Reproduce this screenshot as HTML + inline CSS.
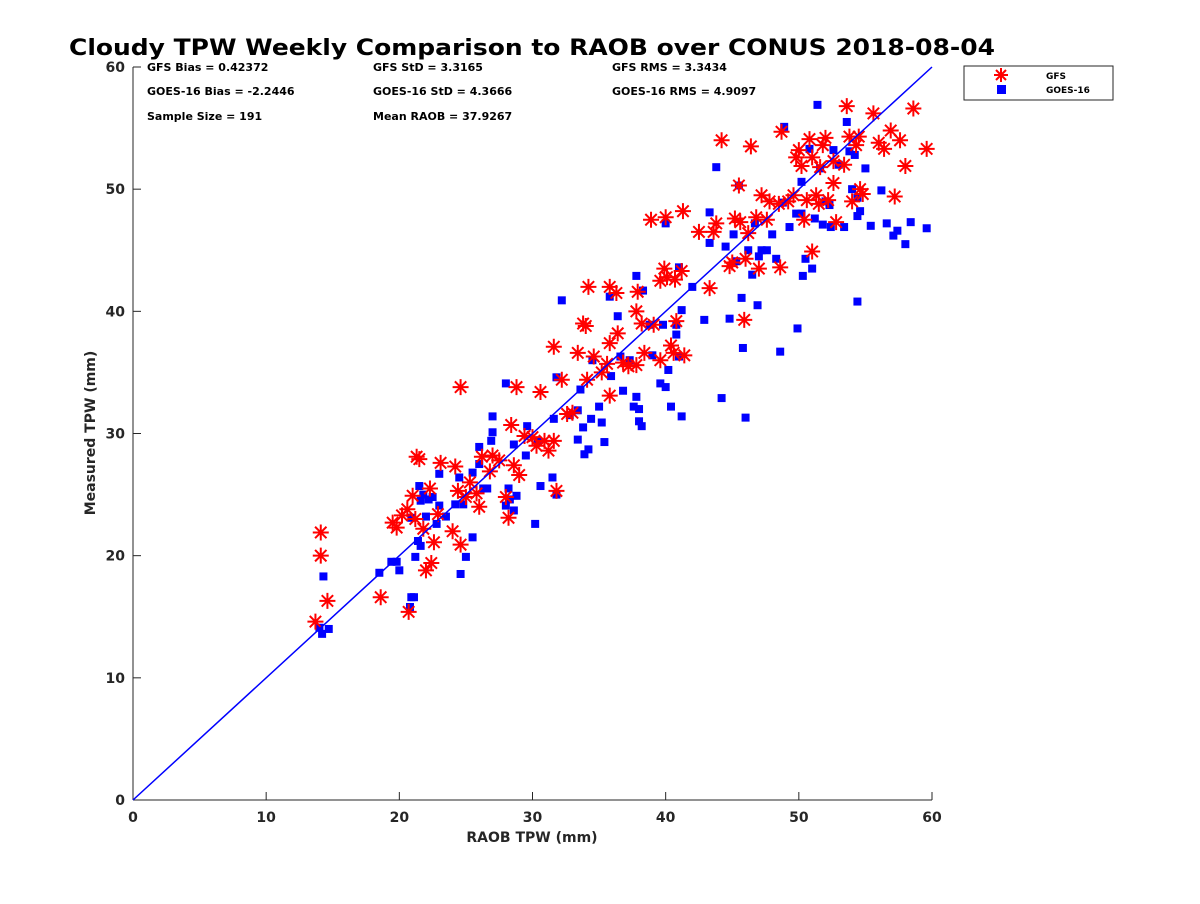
<!DOCTYPE html>
<html><head><meta charset="utf-8"><style>
body{margin:0;background:#fff;width:1200px;height:900px;overflow:hidden;font-family:"DejaVu Sans",sans-serif}
</style></head><body>
<svg id="chart" width="1200" height="900" xmlns="http://www.w3.org/2000/svg" style="font-family:'DejaVu Sans','Liberation Sans',sans-serif">
<text x="532" y="55" text-anchor="middle" font-size="22" font-weight="bold" textLength="926" lengthAdjust="spacingAndGlyphs">Cloudy TPW Weekly Comparison to RAOB over CONUS 2018-08-04</text>
<g font-size="11" font-weight="bold" fill="#000">
<text x="147" y="71">GFS Bias = 0.42372</text><text x="373" y="71">GFS StD = 3.3165</text><text x="612" y="71">GFS RMS = 3.3434</text>
<text x="147" y="95">GOES-16 Bias = -2.2446</text><text x="373" y="95">GOES-16 StD = 4.3666</text><text x="612" y="95">GOES-16 RMS = 4.9097</text>
<text x="147" y="120">Sample Size = 191</text><text x="373" y="120">Mean RAOB = 37.9267</text>
</g>
<g id="axes"></g>
<g id="marks"></g>
<text x="532" y="842" text-anchor="middle" font-size="14" font-weight="bold" fill="#262626">RAOB TPW (mm)</text>
<text transform="translate(95,433) rotate(-90)" text-anchor="middle" font-size="14" font-weight="bold" fill="#262626">Measured TPW (mm)</text>
<g>
<rect x="964" y="66" width="149" height="34" fill="#fff" stroke="#262626" stroke-width="1"/>
<g stroke="#f00" stroke-width="2"><line x1="1001" y1="68" x2="1001" y2="82"/><line x1="994" y1="75" x2="1008" y2="75"/><line x1="996" y1="70" x2="1006" y2="80"/><line x1="996" y1="80" x2="1006" y2="70"/></g>
<rect x="997" y="85" width="9" height="9" fill="#00f"/>
<text x="1046" y="79" font-size="9" font-weight="bold">GFS</text>
<text x="1046" y="93" font-size="9" font-weight="bold">GOES-16</text>
</g>
</svg>
<script>
const xTicks=[0,10,20,30,40,50,60];
const yTicks=[0,10,20,30,40,50,60];
const gfsX=[14.1,14.1,14.6,13.7,18.6,20.7,19.5,19.8,20.2,20.6,21.0,21.3,21.5,21.2,21.8,22.0,22.4,22.6,22.3,22.9,23.1,24.0,24.2,24.6,24.6,24.4,25.0,25.3,25.8,26.0,26.2,26.8,27.0,27.5,28.0,28.2,28.4,28.6,28.8,29.0,29.4,30.0,30.3,30.6,30.9,31.2,31.6,31.8,31.6,32.2,32.6,33.0,33.4,33.8,34.0,34.1,34.2,34.6,35.2,35.6,35.8,35.8,35.8,36.3,36.4,36.8,37.2,37.8,37.9,37.8,38.2,38.4,38.9,39.1,39.6,39.6,39.9,40.0,40.1,40.4,40.6,40.7,40.8,41.2,41.3,41.4,42.5,43.3,43.6,43.8,44.2,44.8,45.0,45.2,45.5,45.6,45.9,46.0,46.2,46.4,46.8,47.0,47.2,47.8,47.6,48.5,48.6,48.7,49.2,49.6,49.8,50.0,50.2,50.4,50.6,50.8,51.0,51.0,51.3,51.5,51.6,51.8,52.0,52.2,52.6,52.6,52.8,53.4,53.6,53.8,54.0,54.3,54.5,54.6,54.8,55.6,56.0,56.4,56.9,57.2,57.6,58.0,58.6,59.6];
const gfsY=[21.9,20.0,16.3,14.6,16.6,15.4,22.7,22.3,23.3,23.8,24.9,28.1,27.9,23.0,22.2,18.8,19.4,21.1,25.5,23.4,27.6,22.0,27.3,20.9,33.8,25.3,24.8,26.0,25.1,24.0,28.1,26.9,28.2,27.8,24.8,23.1,30.7,27.4,33.8,26.6,29.8,29.7,29.0,33.4,29.4,28.6,29.4,25.3,37.1,34.4,31.6,31.7,36.6,39.0,38.8,34.4,42.0,36.3,35.0,35.7,33.1,37.4,42.0,41.5,38.2,35.8,35.5,35.6,41.6,40.0,39.0,36.6,47.5,38.9,42.5,36.0,43.5,47.7,42.8,37.2,36.6,42.6,39.2,43.3,48.2,36.4,46.5,41.9,46.5,47.2,54.0,43.7,44.0,47.6,50.3,47.3,39.3,44.3,46.4,53.5,47.7,43.5,49.5,49.0,47.5,48.8,43.6,54.7,49.0,49.5,52.6,53.2,51.9,47.5,49.1,54.1,52.6,44.9,49.5,48.8,51.8,53.6,54.2,49.1,52.3,50.5,47.3,52.0,56.8,54.3,49.0,53.6,54.3,50.0,49.6,56.2,53.8,53.3,54.8,49.4,54.0,51.9,56.6,53.3];
const goesX=[14.0,14.2,14.3,14.7,18.5,19.4,19.8,20.0,20.8,20.9,21.1,20.9,21.2,21.4,21.5,21.6,21.6,21.8,22.0,22.2,22.5,22.8,23.0,23.0,23.5,24.2,24.5,24.6,24.8,25.0,25.5,25.5,26.0,26.0,26.3,26.6,26.9,27.0,27.0,28.0,28.0,28.2,28.3,28.6,28.6,28.8,29.5,29.6,30.2,30.4,30.6,31.5,31.6,31.8,31.8,32.2,32.8,33.4,33.4,33.6,33.8,33.9,34.2,34.4,34.5,35.0,35.2,35.4,35.8,35.9,36.6,36.4,36.8,37.3,37.6,37.8,38.0,37.8,38.0,38.2,38.3,38.8,39.0,39.6,39.8,40.0,40.0,40.2,40.4,40.8,40.8,41.0,41.2,41.0,41.2,42.0,42.9,43.3,43.3,43.8,44.2,44.5,44.8,45.1,45.3,45.5,45.7,45.8,46.0,46.2,46.5,46.7,46.9,47.0,47.2,47.6,48.0,48.3,48.6,48.8,48.9,49.3,49.8,49.9,50.2,50.3,50.5,50.8,51.0,51.2,51.4,51.6,51.8,52.0,52.3,52.4,53.0,53.4,53.6,53.8,54.0,54.2,54.4,54.4,54.6,54.4,55.4,56.2,56.6,57.1,57.4,58.0,58.4,59.6,55.0,52.6,50.2];
const goesY=[14.1,13.6,18.3,14.0,18.6,19.5,19.5,18.8,15.8,16.6,16.6,23.1,19.9,21.2,25.7,20.8,24.5,25.0,23.2,24.6,24.8,22.6,26.7,24.1,23.2,24.2,26.4,18.5,24.2,19.9,26.8,21.5,27.5,28.9,25.5,25.5,29.4,30.1,31.4,24.1,34.1,25.5,24.6,23.7,29.1,24.9,28.2,30.6,22.6,29.4,25.7,26.4,31.2,34.6,25.0,40.9,31.5,31.9,29.5,33.6,30.5,28.3,28.7,31.2,36.0,32.2,30.9,29.3,41.2,34.7,36.3,39.6,33.5,36.0,32.2,33.0,31.0,42.9,32.0,30.6,41.7,38.9,36.4,34.1,38.9,47.2,33.8,35.2,32.2,38.1,38.9,36.3,40.1,43.6,31.4,42.0,39.3,48.1,45.6,51.8,32.9,45.3,39.4,46.3,44.1,50.3,41.1,37.0,31.3,45.0,43.0,47.2,40.5,44.5,45.0,45.0,46.3,44.3,36.7,48.9,55.1,46.9,48.0,38.6,48.0,42.9,44.3,53.3,43.5,47.6,56.9,51.7,47.1,49.0,48.7,46.9,52.0,46.9,55.5,53.1,50.0,52.8,40.8,49.3,48.2,47.8,47.0,49.9,47.2,46.2,46.6,45.5,47.3,46.8,51.7,53.2,50.6];

const NS='http://www.w3.org/2000/svg';
const X0=133,X1=932,Y0=800,Y1=67;
function sx(v){return X0+(v-0)/(60-0)*(X1-X0);}
function sy(v){return Y0-(v-0)/(60-0)*(Y0-Y1);}
function mk(tag,attrs,parent){const e=document.createElementNS(NS,tag);for(const k in attrs)e.setAttribute(k,attrs[k]);parent.appendChild(e);return e;}
const axes=document.getElementById('axes');
const marks=document.getElementById('marks');
const ax=mk('line',{x1:X0,y1:Y0,x2:X1,y2:Y0,stroke:'#262626','stroke-width':1},axes);


const ay=mk('line',{x1:X0,y1:Y0,x2:X0,y2:Y1,stroke:'#262626','stroke-width':1},axes);


xTicks.forEach(t=>{
  mk('line',{x1:sx(t),y1:Y0,x2:sx(t),y2:Y0-8,stroke:'#262626'},axes);
  const tx=mk('text',{x:sx(t),y:Y0+22,'text-anchor':'middle','font-size':14,'font-weight':'bold',fill:'#262626'},axes);
  tx.textContent=t;
  
  
});
yTicks.forEach(t=>{
  mk('line',{x1:X0,y1:sy(t),x2:X0+8,y2:sy(t),stroke:'#262626'},axes);
  const ty=mk('text',{x:X0-8,y:sy(t)+5,'text-anchor':'end','font-size':14,'font-weight':'bold',fill:'#262626'},axes);
  ty.textContent=t;
  
  
});
const gGoes=mk('g',{fill:'#00f'},marks);


goesX.forEach((x,i)=>{
  const r=mk('rect',{x:sx(x)-4,y:sy(goesY[i])-4,width:8,height:8},gGoes);
  
  
});
const gGfs=mk('g',{stroke:'#f00','stroke-width':2},marks);


gfsX.forEach((x,i)=>{
  const cx=sx(x),cy=sy(gfsY[i]),r=8,d=5.7;
  const p=mk('path',{d:`M${cx} ${cy-r}V${cy+r}M${cx-r} ${cy}H${cx+r}M${cx-d} ${cy-d}L${cx+d} ${cy+d}M${cx-d} ${cy+d}L${cx+d} ${cy-d}`,fill:'none'},gGfs);
  
  
});
const ln=mk('line',{x1:sx(0),y1:sy(0),x2:sx(60),y2:sy(60),stroke:'#00f','stroke-width':1.5},marks);


</script>
</body></html>
